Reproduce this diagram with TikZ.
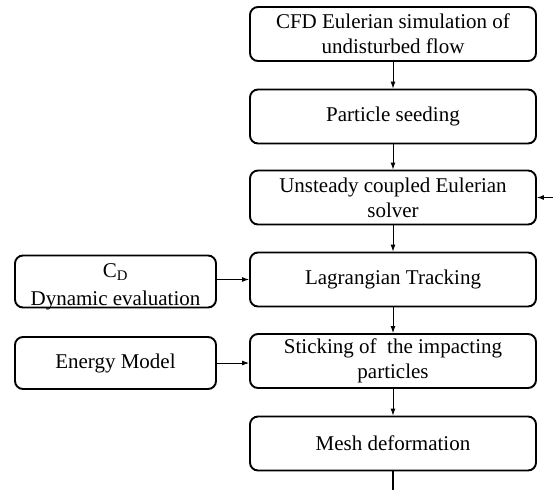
\documentclass[tikz,border=0pt]{standalone}
\usepackage{fontspec}
\setmainfont{Liberation Serif}
\usetikzlibrary{arrows.meta}
\begin{document}
\begin{tikzpicture}[x=1pt,y=1pt,
  box/.style={draw, line width=1.9pt, rounded corners=8pt, minimum width=286pt,
    minimum height=54pt, align=center, inner sep=0pt,
    font=\fontsize{21}{25}\selectfont},
  sidebox/.style={box, minimum width=201pt, minimum height=52pt},
  plain/.style={align=center, inner sep=0pt, font=\fontsize{21}{28}\selectfont},
  conn/.style={-{Latex[length=7pt,width=5pt]}, line width=0.9pt},
  thickline/.style={line width=1.9pt}]
\useasboundingbox (0,0) rectangle (553,-490);
\node[box] (cfd)   at (393,-34)    {CFD Eulerian simulation of\\undisturbed flow};
\node[box] (seed)  at (393,-116.5) {Particle seeding};
\node[box] (uns)   at (393,-197.5) {Unsteady coupled Eulerian\\solver};
\node[box] (lag)   at (393,-279.5) {Lagrangian Tracking};
\node[box] (stick) at (393,-361)   {Sticking of\ \ the impacting\\particles};
\node[box] (mesh)  at (393,-443.5) {Mesh deformation};
\node[sidebox] (cd) at (115.5,-281.5) {};
\node[plain] (cdtext) at (115.5,-287) {C\textsubscript{D}\\Dynamic evaluation};
\node[sidebox] (energy) at (115.5,-363) {Energy Model};
\coordinate (fb) at (553,-197.5);
\coordinate (out) at (393,-490);
\draw[conn] (cfd) -- (seed);
\draw[conn] (seed) -- (uns);
\draw[conn] (uns) -- (lag);
\draw[conn] (lag) -- (stick);
\draw[conn] (stick) -- (mesh);
\draw[conn] (fb) -- (uns.east);
\draw[conn] (cd.east |- lag.west) -- (lag.west);
\draw[conn] (energy.east) -- (energy.east -| stick.west);
\draw[thickline] (mesh.south) -- (out);
\end{tikzpicture}
\end{document}
